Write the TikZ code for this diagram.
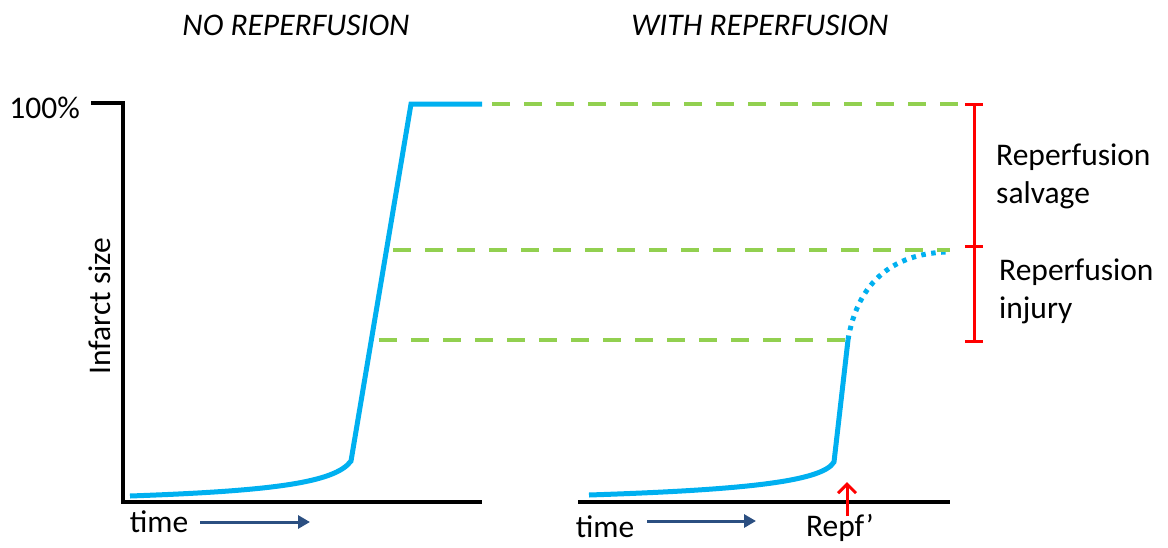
\documentclass[tikz,border=0pt]{standalone}
\usepackage{fontspec}
\setmainfont{Carlito}
\usetikzlibrary{arrows.meta}
\definecolor{curvecyan}{HTML}{00B0F0}
\definecolor{levelgreen}{HTML}{92D050}
\definecolor{barred}{HTML}{FF0000}
\definecolor{timeblue}{HTML}{2B4F81}
\tikzset{
  lbl/.style={font=\fontsize{31.5}{38}\selectfont, inner sep=0pt, text=black},
  ttl/.style={font=\fontsize{31.5}{38}\selectfont\itshape, inner sep=0pt},
  axisline/.style={line width=3.2pt, black},
  infcurve/.style={line width=5pt, curvecyan},
  dotcurve/.style={line width=5pt, curvecyan, dash pattern=on 4.5pt off 5.5pt},
  level/.style={line width=4.5pt, levelgreen, dash pattern=on 18pt off 14pt},
  bar/.style={line width=3pt, barred},
  timearrow/.style={line width=3pt, timeblue, -{Triangle[length=12pt,width=13pt]}},
  repfarrow/.style={line width=3pt, barred, -{Straight Barb[length=9pt,width=18pt]}},
}
\begin{document}
\begin{tikzpicture}[x=1pt,y=-1pt]
\useasboundingbox (0,0) rectangle (1168,547);
% titles
\node[ttl] (t1) at (296,25) {NO REPERFUSION};
\node[ttl] (t2) at (760,25) {WITH REPERFUSION};
% left axes
\coordinate (ytop) at (91,103);
\coordinate (ycorner) at (123,103);
\coordinate (origin) at (123,502);
\coordinate (xend) at (482,502);
\draw[axisline, line join=miter] (ytop) -- (ycorner) -- (origin) -- (xend);
\node[lbl, anchor=east] (p100) at (80,108) {100\%};
\node[lbl, rotate=90] (ylab) at (100,306) {Infarct size};
% right axis
\coordinate (rx0) at (578,502);
\coordinate (rx1) at (950,502);
\draw[axisline] (rx0) -- (rx1);
% left curve
\coordinate (c0) at (130,496);
\coordinate (c1) at (351,461);
\coordinate (c2) at (411,104);
\coordinate (c3) at (482,104);
\draw[infcurve, line join=miter] (c0) .. controls (270,491) and (335,483) .. (c1) -- (c2) -- (c3);
% right curve
\coordinate (r0) at (589,495);
\coordinate (r1) at (834,462);
\coordinate (r2) at (848,340);
\coordinate (r3) at (946,252);
\draw[infcurve] (r0) .. controls (740,490) and (822,482) .. (r1) -- (r2);
\draw[dotcurve] (r2) .. controls (857,285) and (890,254) .. (r3);
% green level lines
\coordinate (g1a) at (492,104);
\coordinate (g1b) at (968,104);
\coordinate (g2a) at (393,250);
\coordinate (g2b) at (950,250);
\coordinate (g3a) at (379,340);
\coordinate (g3b) at (845,340);
\draw[level] (g1a) -- (g1b);
\draw[level] (g2a) -- (g2b);
\draw[level] (g3a) -- (g3b);
% red bars
\coordinate (b1) at (974,104);
\coordinate (b2) at (974,246);
\coordinate (b3) at (974,341);
\draw[bar] (b1) -- (b3);
\foreach \b in {b1,b2,b3} \draw[bar] ([xshift=-9pt]\b) -- ([xshift=9pt]\b);
\node[lbl, anchor=west, align=left] (salv) at (996,176) {Reperfusion\\salvage};
\node[lbl, anchor=west, align=left] (inj) at (999,291) {Reperfusion\\injury};
% time labels
\node[lbl] (time1) at (159,522) {time};
\coordinate (ta1) at (200,522);
\coordinate (ta2) at (310,522);
\draw[timearrow] (ta1) -- (ta2);
\node[lbl] (time2) at (605,527) {time};
\coordinate (tb1) at (647,521);
\coordinate (tb2) at (756,521);
\draw[timearrow] (tb1) -- (tb2);
% Repf'
\node[lbl] (repf) at (840,528) {Repf’};
\coordinate (ra1) at (847,516);
\coordinate (ra2) at (847,482);
\draw[repfarrow] (ra1) -- (ra2);
\end{tikzpicture}
\end{document}
